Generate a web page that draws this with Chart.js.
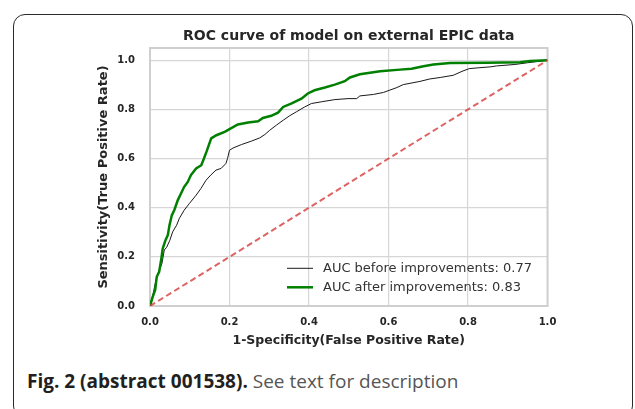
<!DOCTYPE html>
<html>
<head>
<meta charset="utf-8">
<script src="https://cdn.jsdelivr.net/npm/chart.js@4.4.1/dist/chart.umd.min.js"></script>
<style>
  body { margin: 0; background: #fff; }
  #frame {
    position: absolute; left: 13px; top: 14px; width: 620px; height: 404px;
    border: 1.5px solid #2b2b2b; border-radius: 12px; box-sizing: border-box;
  }
  #wrap { position: absolute; left: 60px; top: 20px; width: 520px; height: 340px; }
  #caption {
    position: absolute; left: 27px; top: 368px;
    font-family: 'Open Sans', sans-serif; font-size: 19px; color: #555;
    white-space: nowrap;
  }
  #caption b { color: #231f20; font-weight: 700; }
</style>
</head>
<body>
<div id="frame"></div>
<div id="wrap"><canvas id="rocChart"></canvas></div>
<div id="caption"><b>Fig. 2 (abstract 001538).</b> See text for description</div>
<script>
// curves (false positive rate, true positive rate)
const beforeFpr = [0, 0.008, 0.015, 0.022, 0.030, 0.036, 0.042, 0.050, 0.057, 0.067, 0.074, 0.086, 0.099, 0.116, 0.128, 0.141, 0.153, 0.166, 0.179, 0.191, 0.195, 0.200, 0.209, 0.230, 0.255, 0.276, 0.289, 0.301, 0.318, 0.335, 0.351, 0.368, 0.389, 0.406, 0.431, 0.465, 0.498, 0.520, 0.528, 0.562, 0.587, 0.621, 0.637, 0.679, 0.704, 0.730, 0.763, 0.785, 0.803, 0.830, 0.855, 0.872, 0.918, 0.950, 1.0];
const beforeTpr = [0, 0.050, 0.106, 0.139, 0.173, 0.228, 0.239, 0.268, 0.302, 0.329, 0.357, 0.390, 0.417, 0.451, 0.478, 0.512, 0.533, 0.553, 0.560, 0.580, 0.600, 0.634, 0.643, 0.657, 0.671, 0.684, 0.698, 0.715, 0.736, 0.756, 0.774, 0.790, 0.810, 0.824, 0.831, 0.840, 0.844, 0.844, 0.855, 0.861, 0.869, 0.889, 0.901, 0.914, 0.924, 0.930, 0.939, 0.955, 0.966, 0.970, 0.973, 0.977, 0.983, 0.990, 1.0];

const afterFpr = [0, 0.007, 0.013, 0.017, 0.023, 0.028, 0.032, 0.039, 0.045, 0.049, 0.055, 0.061, 0.070, 0.078, 0.086, 0.095, 0.103, 0.116, 0.129, 0.134, 0.142, 0.154, 0.167, 0.188, 0.200, 0.221, 0.247, 0.272, 0.284, 0.305, 0.322, 0.335, 0.355, 0.381, 0.397, 0.414, 0.440, 0.465, 0.490, 0.503, 0.528, 0.579, 0.629, 0.658, 0.688, 0.713, 0.755, 0.847, 0.931, 0.956, 1.0];
const afterTpr = [0, 0.038, 0.065, 0.119, 0.139, 0.187, 0.234, 0.268, 0.289, 0.329, 0.370, 0.390, 0.431, 0.458, 0.485, 0.505, 0.533, 0.560, 0.573, 0.593, 0.627, 0.682, 0.695, 0.709, 0.720, 0.739, 0.747, 0.752, 0.765, 0.774, 0.787, 0.810, 0.824, 0.844, 0.865, 0.878, 0.889, 0.901, 0.915, 0.930, 0.943, 0.955, 0.962, 0.966, 0.976, 0.983, 0.989, 0.990, 0.992, 0.997, 1.0];

const chanceLine = [0, 1];
const axisTicks = [0, 0.2, 0.4, 0.6, 0.8, 1.0];

const labels = ['AUC before improvements: 0.77', 'AUC after improvements: 0.83'];

function pts(xs, ys) {
    return xs.map((x, i) => ({ x: x, y: ys[i] }));
}

// matplotlib style legend sitting inside the plot, lower right
const innerLegend = {
    id: 'innerLegend',
    afterDatasetsDraw(chart) {
        const { ctx, chartArea } = chart;
        const items = chart.data.datasets.filter(d => d.label);
        ctx.save();
        ctx.font = '13px "DejaVu Sans"';
        ctx.textBaseline = 'middle';
        ctx.fillStyle = '#333';
        items.forEach((d, i) => {
            const y = chartArea.bottom - 37.7 + i * 19;
            const x0 = chartArea.right - 260.5;
            ctx.beginPath();
            ctx.strokeStyle = d.borderColor;
            ctx.lineWidth = d.borderWidth;
            ctx.moveTo(x0, y);
            ctx.lineTo(x0 + 26, y);
            ctx.stroke();
            ctx.fillText(d.label, x0 + 36, y);
        });
        ctx.restore();
    }
};

// light grey box around the axes
const axesBox = {
    id: 'axesBox',
    beforeDatasetsDraw(chart) {
        const { ctx, chartArea } = chart;
        ctx.save();
        ctx.strokeStyle = '#cfcfcf';
        ctx.lineWidth = 2;
        ctx.strokeRect(chartArea.left, chartArea.top, chartArea.width, chartArea.height);
        ctx.restore();
    }
};

Chart.defaults.font.family = '"DejaVu Sans"';

const ctx = document.getElementById('rocChart');
new Chart(ctx, {
    type: 'scatter',
    data: {
        datasets: [{
            label: labels[0],
            data: pts(beforeFpr, beforeTpr),
            showLine: true,
            borderColor: '#1a1a1a',
            borderWidth: 1,
            pointRadius: 0,
            order: 2
        }, {
            label: labels[1],
            data: pts(afterFpr, afterTpr),
            showLine: true,
            borderColor: '#008000',
            borderWidth: 2.5,
            pointRadius: 0,
            order: 1
        }, {
            label: '',
            data: pts(chanceLine, chanceLine),
            showLine: true,
            borderColor: 'rgba(214, 60, 60, 0.8)',
            borderWidth: 2,
            borderDash: [6, 3.5],
            pointRadius: 0,
            order: 0
        }]
    },
    options: {
        responsive: true,
        maintainAspectRatio: false,
        animation: false,
        layout: { padding: { left: 0, right: 32.5, top: 0, bottom: 0 } },
        plugins: {
            legend: { display: false },
            tooltip: { enabled: false },
            title: {
                display: true,
                fullSize: false,
                text: 'ROC curve of model on external EPIC data',
                color: '#262626',
                font: { size: 14, weight: 'bold' },
                padding: { top: 7.6, bottom: 3.6 }
            }
        },
        scales: {
            x: {
                type: 'linear',
                min: 0,
                max: 1,
                afterBuildTicks: s => { s.ticks = axisTicks.map(v => ({ value: v })); },
                afterFit: s => { s.height = 54; },
                grid: { color: '#d6d6d6', lineWidth: 1.2, drawTicks: false },
                border: { display: false },
                ticks: {
                    padding: 10,
                    color: '#262626',
                    font: { size: 10, weight: 'bold' },
                    callback: v => v.toFixed(1)
                },
                title: {
                    display: true,
                    text: '1-Specificity(False Positive Rate)',
                    color: '#262626',
                    font: { size: 12.5, weight: 'bold' },
                    padding: { top: 0, bottom: 11.5 }
                }
            },
            y: {
                type: 'linear',
                min: 0,
                max: 1.05,
                afterBuildTicks: s => { s.ticks = axisTicks.map(v => ({ value: v })); },
                afterFit: s => { s.width = 90; },
                grid: { color: '#d6d6d6', lineWidth: 1.2, drawTicks: false },
                border: { display: false },
                ticks: {
                    padding: 15,
                    color: '#262626',
                    font: { size: 10, weight: 'bold' },
                    callback: v => v.toFixed(1)
                },
                title: {
                    display: true,
                    text: 'Sensitivity(True Positive Rate)',
                    color: '#262626',
                    font: { size: 13, weight: 'bold' },
                    padding: { top: 36.2, bottom: 0 }
                }
            }
        }
    },
    plugins: [axesBox, innerLegend]
});
</script>
</body>
</html>
